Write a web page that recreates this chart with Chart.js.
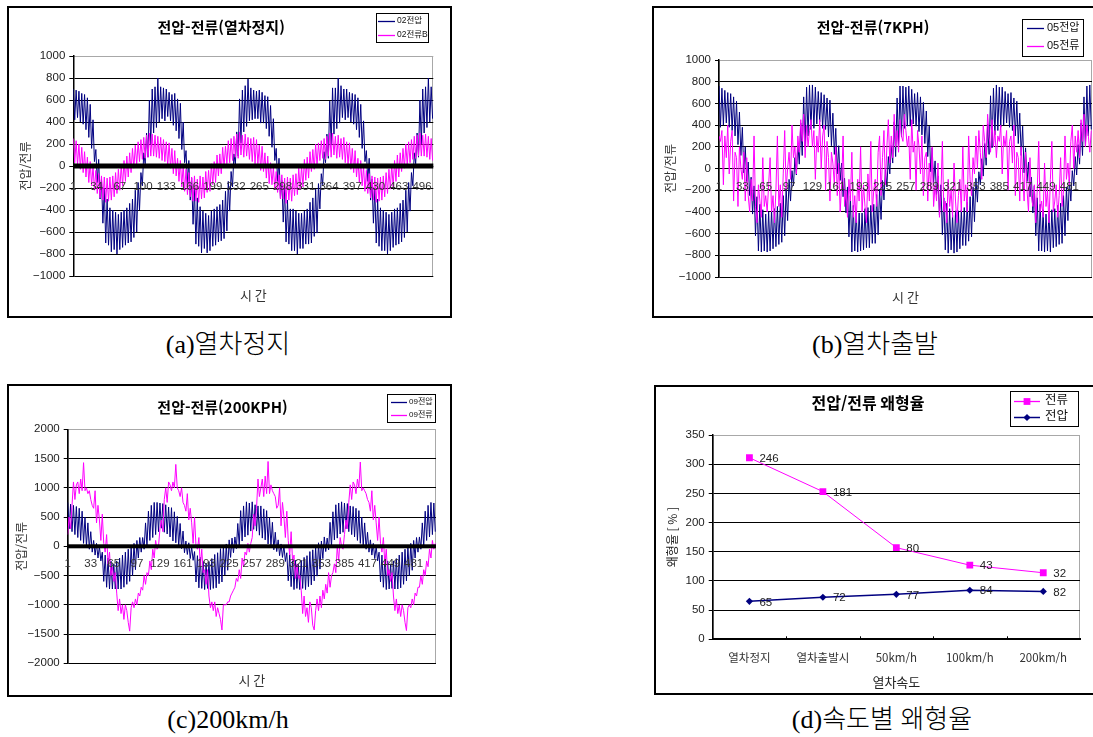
<!DOCTYPE html>
<html lang="ko">
<head>
<meta charset="utf-8">
<title>전압-전류 파형 및 왜형율</title>
<script src="https://cdn.jsdelivr.net/npm/chart.js@4.4.1/dist/chart.umd.min.js"></script>
<style>
  html, body { margin: 0; padding: 0; background: #fff; }
  body { width: 1093px; height: 737px; position: relative; overflow: hidden; }
  .panel { position: absolute; border: 2px solid #000; box-sizing: border-box; background: #fff; }
  .panel canvas { display: block; }
  .caption {
    position: absolute; height: 30px; line-height: 30px; white-space: nowrap;
    transform: translateX(-50%);
    font-family: 'Liberation Serif', 'Noto Sans CJK KR', serif; font-size: 26px; font-weight: 300; color: #000;
  }
</style>
</head>
<body>
<div class="panel" style="left:7px;top:6px;width:445px;height:312px"><canvas id="chartA" width="441" height="308"></canvas></div>
<div class="panel" style="left:652px;top:6px;width:445px;height:312px"><canvas id="chartB" width="441" height="308"></canvas></div>
<div class="panel" style="left:7px;top:384px;width:445px;height:313px"><canvas id="chartC" width="441" height="309"></canvas></div>
<div class="panel" style="left:654px;top:385px;width:445px;height:310px"><canvas id="chartD" width="441" height="306"></canvas></div>
<div class="caption" style="left:228px;top:330px">(a)열차정지</div>
<div class="caption" style="left:875px;top:330px">(b)열차출발</div>
<div class="caption" style="left:228px;top:705px">(c)200km/h</div>
<div class="caption" style="left:882px;top:705px">(d)속도별 왜형율</div>
<script>
// ---- measured waveforms: one value every 2 samples (samples 1, 3, 5 ... 511) ----

// (a) train stopped
const voltA = [
  700,420,690,440,680,400,660,380,650,330,620,260,560,160,420,40,
  150,-150,60,-300,-120,-520,-200,-700,-300,-720,-380,-780,-400,-760,-420,-800,
  -440,-760,-420,-740,-400,-720,-380,-700,-340,-690,-300,-650,-220,-600,-150,-400,
  -60,-180,120,20,300,80,600,200,700,300,720,350,800,400,720,430,
  710,410,700,450,670,410,650,370,660,320,610,250,570,150,400,30,
  140,-160,50,-310,-110,-530,-210,-710,-290,-730,-370,-790,-410,-750,-430,-790,
  -450,-770,-410,-730,-390,-720,-370,-690,-350,-680,-310,-660,-230,-590,-140,-410,
  -50,-190,110,10,310,90,610,210,690,310,730,360,790,410,710,420,
  690,430,680,430,690,390,670,390,640,340,630,270,550,170,430,50,
  160,-140,70,-290,-130,-510,-190,-690,-310,-710,-390,-770,-390,-770,-410,-800,
  -430,-750,-430,-750,-410,-710,-390,-710,-330,-700,-290,-640,-210,-610,-160,-390,
  -70,-170,130,30,290,70,590,190,710,290,710,340,800,390,730,440,
  700,420,700,440,670,400,660,380,650,330,620,260,560,160,410,40,
  140,-140,70,-310,-120,-520,-210,-700,-300,-730,-380,-770,-400,-770,-420,-800,
  -440,-770,-420,-740,-390,-720,-380,-710,-340,-690,-310,-650,-220,-600,-150,-410,
  -60,-180,120,20,300,80,600,200,700,300,720,350,800,400,720,430
];
const currA = [
  250,30,230,10,200,-30,170,-60,130,-100,80,-150,40,-180,0,-220,
  -40,-250,-70,-290,-90,-310,-100,-330,-110,-320,-100,-310,-90,-280,-60,-250,
  -30,-220,10,-180,50,-140,90,-100,120,-60,160,-20,190,10,220,40,
  240,60,260,70,280,80,300,90,290,90,280,80,270,70,260,50,
  240,40,220,0,210,-20,160,-70,140,-90,70,-140,50,-190,10,-230,
  -30,-260,-60,-280,-100,-320,-90,-320,-120,-330,-90,-300,-100,-290,-50,-240,
  -40,-230,20,-170,40,-150,100,-90,110,-70,170,-10,180,20,230,30,
  250,50,270,80,290,70,310,100,280,80,290,90,260,60,250,40,
  260,20,240,20,190,-40,180,-50,120,-110,90,-160,30,-170,-10,-210,
  -50,-240,-80,-300,-80,-300,-110,-340,-100,-310,-110,-320,-80,-270,-70,-260,
  -20,-210,0,-190,60,-130,80,-110,130,-50,150,-30,200,0,210,50,
  230,70,250,60,270,90,300,80,300,100,270,70,280,80,250,60,
  260,30,220,10,210,-30,160,-60,140,-100,70,-150,50,-180,0,-230,
  -40,-250,-70,-290,-90,-310,-100,-330,-110,-320,-100,-310,-90,-280,-60,-250,
  -30,-210,10,-190,50,-140,100,-100,120,-50,160,-20,200,10,220,30,
  240,60,270,70,280,90,300,90,280,90,290,80,270,60,250,50
];

// (b) train starting, 7 km/h
const voltB = [
  760,380,740,400,720,420,700,380,690,350,660,300,620,220,520,120,
  380,-40,200,-120,60,-250,-80,-420,-160,-620,-260,-760,-330,-770,-380,-760,
  -420,-770,-400,-760,-380,-740,-370,-720,-350,-700,-320,-680,-250,-620,-180,-480,
  -100,-300,-20,-160,100,-60,220,40,420,120,660,200,750,300,770,360,
  770,370,750,410,710,430,700,370,680,360,650,290,630,210,510,130,
  370,-50,210,-110,50,-260,-90,-410,-170,-630,-250,-770,-340,-760,-390,-770,
  -410,-760,-410,-750,-370,-730,-360,-730,-340,-690,-330,-690,-240,-610,-190,-470,
  -110,-290,-10,-170,110,-50,210,50,430,110,650,210,760,290,760,370,
  750,390,760,390,730,410,690,390,700,340,660,310,610,230,530,110,
  390,-30,190,-130,70,-240,-70,-430,-150,-610,-270,-750,-320,-780,-370,-750,
  -430,-780,-390,-770,-390,-740,-380,-710,-360,-710,-310,-670,-260,-630,-170,-490,
  -90,-310,-30,-150,90,-70,230,30,410,130,670,190,740,310,770,350,
  750,380,750,400,710,420,690,380,700,350,650,300,620,230,510,120,
  390,-40,190,-120,60,-260,-80,-410,-160,-620,-270,-760,-330,-760,-380,-770,
  -420,-760,-400,-770,-380,-730,-370,-720,-340,-700,-320,-690,-250,-620,-170,-480,
  -100,-300,-20,-160,110,-60,220,40,420,120,660,210,760,300,770,360
];
const currB = [
  300,250,350,-150,300,100,400,-50,250,350,-300,150,100,-350,200,0,
  -100,150,-300,100,-250,-400,-100,-300,300,-350,-500,-150,-300,-450,100,-350,
  -250,-400,-150,100,-400,-250,-500,-200,300,-350,-150,-450,-50,350,-200,0,
  150,-100,400,100,200,-50,300,150,450,250,500,100,400,200,350,450,
  200,350,-100,300,150,450,0,300,400,-200,250,100,-300,150,50,-150,
  200,-250,50,-400,-150,300,-350,-200,-450,-100,-300,150,-450,-250,-500,-100,
  -300,200,-400,-150,-350,-500,-50,-300,250,-400,-200,-100,-350,150,300,-250,
  100,350,-150,200,450,50,300,100,500,200,350,150,450,300,250,500,
  350,200,300,-100,450,150,250,-200,350,200,-50,300,-250,100,150,-300,
  50,-200,200,-350,-150,-300,50,-450,-250,250,-400,-300,-500,-100,-350,-200,
  -450,50,-300,-500,-250,-100,-400,200,-300,-150,-400,300,-100,-250,100,-50,
  300,0,350,150,-100,400,250,100,500,300,150,450,200,350,100,300,
  250,400,-50,300,200,350,-200,250,300,50,400,-250,150,100,-300,200,
  -50,-300,150,-200,-400,100,-250,-350,-150,-500,-200,250,-400,-300,-450,50,
  -350,-200,-500,-100,250,-400,-300,-150,-450,-250,100,-350,-200,300,-100,50,
  -150,250,400,0,300,150,350,100,450,250,500,200,400,300,150,350
];

// (c) 200 km/h
const voltC = [
  750,300,720,250,700,200,680,150,650,100,600,50,500,0,400,-50,
  250,-100,100,-150,50,-200,0,-250,-100,-600,-150,-700,-200,-730,-250,-730,
  -300,-730,-250,-730,-200,-730,-150,-700,-100,-650,-50,-600,0,-500,50,-400,
  100,-200,150,-100,150,-50,400,0,600,100,700,150,750,200,750,250,
  740,310,730,240,710,210,670,160,660,90,590,60,510,-10,390,-40,
  260,-110,90,-140,60,-210,-10,-240,-90,-610,-160,-710,-190,-720,-260,-740,
  -290,-720,-260,-740,-210,-720,-140,-710,-110,-640,-40,-610,10,-490,40,-410,
  110,-190,140,-110,160,-40,390,10,610,90,690,160,760,190,740,260,
  760,290,710,260,690,190,690,140,640,110,610,40,490,10,410,-60,
  240,-90,110,-160,40,-190,10,-260,-110,-590,-140,-690,-210,-740,-240,-720,
  -310,-740,-240,-720,-190,-740,-160,-690,-90,-660,-60,-590,-10,-510,60,-390,
  90,-210,160,-90,140,-60,410,-10,590,110,710,140,740,210,760,240,
  740,300,730,250,690,200,680,160,650,100,610,50,500,10,400,-50,
  240,-100,110,-150,50,-210,0,-250,-100,-610,-150,-700,-200,-740,-250,-730,
  -300,-720,-250,-730,-210,-730,-150,-710,-100,-650,-50,-590,0,-500,50,-410,
  100,-200,150,-100,160,-50,400,0,600,100,700,160,750,200,740,250
];
const currC = [
  200,500,300,700,1100,800,1050,1100,900,1150,950,1430,950,1000,900,950,
  800,700,650,950,400,700,450,100,550,50,-100,200,-300,-100,-500,-350,
  -600,-450,-800,-1100,-900,-1150,-1000,-1250,-1000,-1100,-1300,-1450,-1050,-950,-1050,-900,
  -1000,-800,-850,-700,-750,-500,-650,-450,-500,-250,-400,-50,-200,100,-50,0,
  300,450,250,800,1000,750,1100,1050,950,1100,1000,1400,1000,950,850,1000,
  750,700,600,900,450,650,400,50,500,0,-50,150,-350,-50,-450,-400,
  -650,-400,-850,-1050,-950,-1100,-950,-1200,-1050,-1150,-1250,-1430,-1000,-1000,-1000,-950,
  -950,-850,-800,-750,-700,-550,-600,-400,-550,-200,-350,-100,-150,50,-100,50,
  150,550,350,650,1150,850,1000,1150,850,1200,900,1450,900,1050,950,900,
  850,650,700,1000,350,750,500,150,600,100,-150,250,-250,-150,-550,-300,
  -550,-500,-750,-1150,-850,-1200,-1050,-1300,-950,-1050,-1350,-1430,-1100,-900,-1100,-850,
  -1050,-750,-900,-650,-800,-450,-700,-500,-450,-300,-450,0,-250,150,0,-50,
  200,450,300,750,1050,800,1100,1050,900,1150,1000,1440,950,1000,950,900,
  800,750,600,950,450,700,400,100,500,50,-100,150,-300,-50,-500,-400,
  -600,-450,-850,-1100,-900,-1150,-1000,-1200,-1000,-1100,-1300,-1440,-1050,-1000,-1050,-900,
  -1000,-800,-850,-700,-700,-500,-650,-400,-500,-250,-350,-50,-200,100,-50,50
];

// sample number of each stored value
const sampleNo = voltA.map((_, k) => 2 * k + 1);

// time-axis labels written along the zero line
const timeTicksA = ['1','34','67','100','133','166','199','232','265','298','331','364','397','430','463','496'];
const timeTicksBC = ['1','33','65','97','129','161','193','225','257','289','321','353','385','417','449','481'];

// (d) distortion rate by speed
const speedCats = ['열차정지', '열차출발시', '50km/h', '100km/h', '200km/h'];
const distCurrent = [246, 181, 80, 43, 32];
const distVoltage = [65, 72, 77, 84, 82];

// ---- drawing ----
const NAVY = '#000080', MAGENTA = '#ff00ff';
const SANS = "'Liberation Sans', 'Noto Sans CJK KR', sans-serif";
const KSANS = "'Noto Sans CJK KR', 'Liberation Sans', sans-serif";
const signed = v => (v < 0 ? '\u2212' + Math.abs(v) : String(v));
Chart.defaults.font.family = SANS;

// grey frame around the plot area (grid lines are drawn over it)
const plotFrame = {
  id: 'plotFrame',
  beforeDraw(chart) {
    const a = chart.chartArea, c = chart.ctx;
    c.save();
    c.strokeStyle = '#a8a8a8';
    c.lineWidth = 1;
    c.strokeRect(Math.round(a.left) + 0.5, Math.round(a.top) + 0.5,
                 Math.round(a.right - a.left) - 1, Math.round(a.bottom - a.top));
    c.restore();
  }
};

// boxed legend in the upper right corner
function boxLegend(spec) {
  return {
    id: 'boxLegend',
    afterDraw(chart) {
      const c = chart.ctx;
      c.save();
      c.fillStyle = '#fff';
      c.fillRect(spec.x, spec.y, spec.w, spec.h);
      c.strokeStyle = '#000';
      c.lineWidth = 1;
      c.strokeRect(spec.x + 0.5, spec.y + 0.5, spec.w, spec.h);
      c.font = spec.size + 'px ' + SANS;
      c.textAlign = 'left';
      c.textBaseline = 'middle';
      spec.order.forEach((dsIndex, k) => {
        const ds = chart.data.datasets[dsIndex];
        const y = spec.rows[k];
        c.strokeStyle = ds.borderColor;
        c.lineWidth = Math.max(ds.borderWidth || 1, 1.3);
        c.beginPath();
        c.moveTo(spec.x1, y + 0.5);
        c.lineTo(spec.x2, y + 0.5);
        c.stroke();
        if (spec.markers) {
          const mx = (spec.x1 + spec.x2) / 2, r = ds.pointRadius;
          c.fillStyle = ds.backgroundColor;
          c.beginPath();
          if (ds.pointStyle === 'rect') {
            const h = r * Math.SQRT1_2;
            c.rect(mx - h, y + 0.5 - h, 2 * h, 2 * h);
          } else {
            c.moveTo(mx - r, y + 0.5); c.lineTo(mx, y + 0.5 - r);
            c.lineTo(mx + r, y + 0.5); c.lineTo(mx, y + 0.5 + r);
            c.closePath();
          }
          c.fill();
        }
        c.fillStyle = '#111';
        c.fillText(ds.label, spec.tx, y);
      });
      c.restore();
    }
  };
}

// zero line (optionally heavy) and time labels placed just under it
function zeroAxis(spec) {
  return {
    id: 'zeroAxis',
    afterDatasetsDraw(chart) {
      const {ctx: c, chartArea: a, scales: {x, y}} = chart;
      const y0 = y.getPixelForValue(0);
      c.save();
      if (spec.heavy) {
        c.fillStyle = '#000';
        c.fillRect(a.left, y0 - spec.heavy / 2, a.right - a.left, spec.heavy);
      }
      c.font = '11.5px ' + SANS;
      c.fillStyle = '#333';
      c.textAlign = 'center';
      c.textBaseline = 'middle';
      spec.labels.forEach(t => c.fillText(t, x.getPixelForValue(Number(t)), y0 + spec.dy));
      c.restore();
    }
  };
}

function waveChart(id, o) {
  return new Chart(document.getElementById(id), {
    type: 'line',
    data: {
      labels: sampleNo,
      datasets: [
        { label: o.vLabel, data: o.volt, borderColor: NAVY, borderWidth: 1, order: 1 },
        { label: o.iLabel, data: o.curr, borderColor: MAGENTA, borderWidth: 1, order: 0 }
      ]
    },
    options: {
      responsive: false,
      animation: false,
      devicePixelRatio: 1,
      events: [],
      layout: { padding: { left: 0, right: o.padRight, top: 0, bottom: 0 } },
      elements: { point: { radius: 0 }, line: { tension: 0 } },
      plugins: {
        legend: { display: false },
        tooltip: { enabled: false },
        title: {
          display: true, text: o.title, color: '#000',
          font: { family: KSANS, size: 15, weight: 'bold', lineHeight: 1 },
          padding: { top: o.titleTop, bottom: o.titleBottom }
        }
      },
      scales: {
        x: {
          type: 'linear', min: 1, max: 512,
          afterFit: s => { s.height = o.xHeight; },
          ticks: { display: false },
          grid: { display: false },
          border: { display: false },
          title: {
            display: true, text: '시 간', color: '#333',
            font: { family: KSANS, size: 13, lineHeight: 1.2 },
            padding: { top: 0, bottom: o.xTitlePad }
          }
        },
        y: {
          min: o.min, max: o.max,
          afterFit: s => { s.width = o.yWidth; },
          ticks: { stepSize: o.step, callback: signed, color: '#222', font: { size: 11.5 }, padding: 4 },
          grid: {
            color: ctx => (ctx.tick && ctx.tick.value === o.max) ? '#a8a8a8' : '#000',
            lineWidth: 1, drawTicks: true, tickLength: 4, tickColor: '#000'
          },
          border: { color: '#000', width: 1.5 },
          title: {
            display: true, text: '전압/전류', color: '#333',
            font: { family: KSANS, size: 12, lineHeight: 1.2 },
            padding: { top: o.yTitlePad, bottom: 0 }
          }
        }
      }
    },
    plugins: [plotFrame, zeroAxis(o.zero), boxLegend(o.legend)]
  });
}

waveChart('chartA', {
  title: '전압-전류(열차정지)', vLabel: '02전압', iLabel: '02전류B', volt: voltA, curr: currA,
  min: -1000, max: 1000, step: 200,
  padRight: 16.7, yWidth: 64.3, titleTop: 11.5, titleBottom: 21.5, xHeight: 40, xTitlePad: 13.2, yTitlePad: 8.8,
  zero: { heavy: 5, labels: timeTicksA, dy: 21 },
  legend: { x: 367, y: 5, w: 52, h: 29, x1: 369, x2: 386, tx: 388, rows: [13, 27], order: [0, 1], size: 8.5 }
});

waveChart('chartB', {
  title: '전압-전류(7KPH)', vLabel: '05전압', iLabel: '05전류', volt: voltB, curr: currB,
  min: -1000, max: 1000, step: 200,
  padRight: 3, yWidth: 65, titleTop: 11.5, titleBottom: 25.5, xHeight: 39, xTitlePad: 11.2, yTitlePad: 8.8,
  zero: { heavy: 0, labels: timeTicksBC, dy: 18 },
  legend: { x: 368, y: 11, w: 61, h: 37, x1: 373, x2: 390, tx: 393, rows: [20, 38], order: [0, 1], size: 11 }
});

waveChart('chartC', {
  title: '전압-전류(200KPH)', vLabel: '09전압', iLabel: '09전류', volt: voltC, curr: currC,
  min: -2000, max: 2000, step: 500,
  padRight: 14, yWidth: 58.7, titleTop: 13.5, titleBottom: 14.8, xHeight: 31.7, xTitlePad: 7.2, yTitlePad: 4.8,
  zero: { heavy: 4, labels: timeTicksBC, dy: 18 },
  legend: { x: 378, y: 8, w: 48, h: 28, x1: 382, x2: 398, tx: 400, rows: [16, 29], order: [0, 1], size: 8 }
});

// (d) stacked line chart: the current series sits on top of the voltage series
const valueLabels = {
  id: 'valueLabels',
  afterDatasetsDraw(chart) {
    const c = chart.ctx;
    c.save();
    c.font = '11.5px ' + SANS;
    c.fillStyle = '#222';
    c.textAlign = 'left';
    c.textBaseline = 'middle';
    chart.data.datasets.forEach((ds, i) => {
      chart.getDatasetMeta(i).data.forEach((pt, k) => c.fillText(String(ds.data[k]), pt.x + 10, pt.y + 1));
    });
    c.restore();
  }
};
const categoryTicks = {
  id: 'categoryTicks',
  afterDatasetsDraw(chart) {
    const {ctx: c, chartArea: a, scales: {x}} = chart;
    c.save();
    c.strokeStyle = '#000';
    c.lineWidth = 1;
    for (let k = 1; k < speedCats.length; k++) {
      const px = Math.round(x.getPixelForValue(k - 0.5)) + 0.5;
      c.beginPath();
      c.moveTo(px, a.bottom - 3);
      c.lineTo(px, a.bottom);
      c.stroke();
    }
    c.restore();
  }
};

new Chart(document.getElementById('chartD'), {
  type: 'line',
  data: {
    labels: speedCats,
    datasets: [
      { label: '전압', data: distVoltage, borderColor: NAVY, backgroundColor: NAVY, borderWidth: 1.5,
        pointStyle: 'rectRot', pointRadius: 3.6, pointBorderWidth: 0 },
      { label: '전류', data: distCurrent, borderColor: MAGENTA, backgroundColor: MAGENTA, borderWidth: 1,
        pointStyle: 'rect', pointRadius: 4.8, pointBorderWidth: 0 }
    ]
  },
  options: {
    responsive: false,
    animation: false,
    devicePixelRatio: 1,
    events: [],
    layout: { padding: { left: 0, right: 17, top: 0, bottom: 0 } },
    elements: { line: { tension: 0 } },
    plugins: {
      legend: { display: false },
      tooltip: { enabled: false },
      title: {
        display: true, text: '전압/전류 왜형율', color: '#000',
        font: { family: KSANS, size: 16, weight: 'bold', lineHeight: 1 },
        padding: { top: 8, bottom: 24 }
      }
    },
    scales: {
      x: {
        type: 'category', offset: true,
        afterFit: s => { s.height = 53.7; },
        ticks: { color: '#333', font: { family: KSANS, size: 11.5 }, padding: 11, maxRotation: 0, autoSkip: false },
        grid: { display: false, drawTicks: false },
        border: { color: '#000', width: 2 },
        title: {
          display: true, text: '열차속도', color: '#222',
          font: { family: KSANS, size: 13, lineHeight: 1.2 },
          padding: { top: 0, bottom: 3.2 }
        }
      },
      y: {
        stacked: true, min: 0, max: 350,
        afterFit: s => { s.width = 56.7; },
        ticks: { stepSize: 50, color: '#222', font: { size: 11.5 }, padding: 4 },
        grid: {
          color: ctx => (ctx.tick && ctx.tick.value === 350) ? '#a8a8a8' : '#000',
          lineWidth: 1, drawTicks: true, tickLength: 4, tickColor: '#000'
        },
        border: { color: '#000', width: 1.5 },
        title: {
          display: true, text: '왜형율 [ % ]', color: '#222',
          font: { family: KSANS, size: 12, lineHeight: 1.2 },
          padding: { top: 8.8, bottom: 0 }
        }
      }
    }
  },
  plugins: [plotFrame, valueLabels, categoryTicks,
    boxLegend({ x: 354, y: 4, w: 68, h: 35, x1: 358, x2: 384, tx: 389, rows: [14, 30], order: [1, 0], size: 12.5, markers: true })]
});
</script>
</body>
</html>
